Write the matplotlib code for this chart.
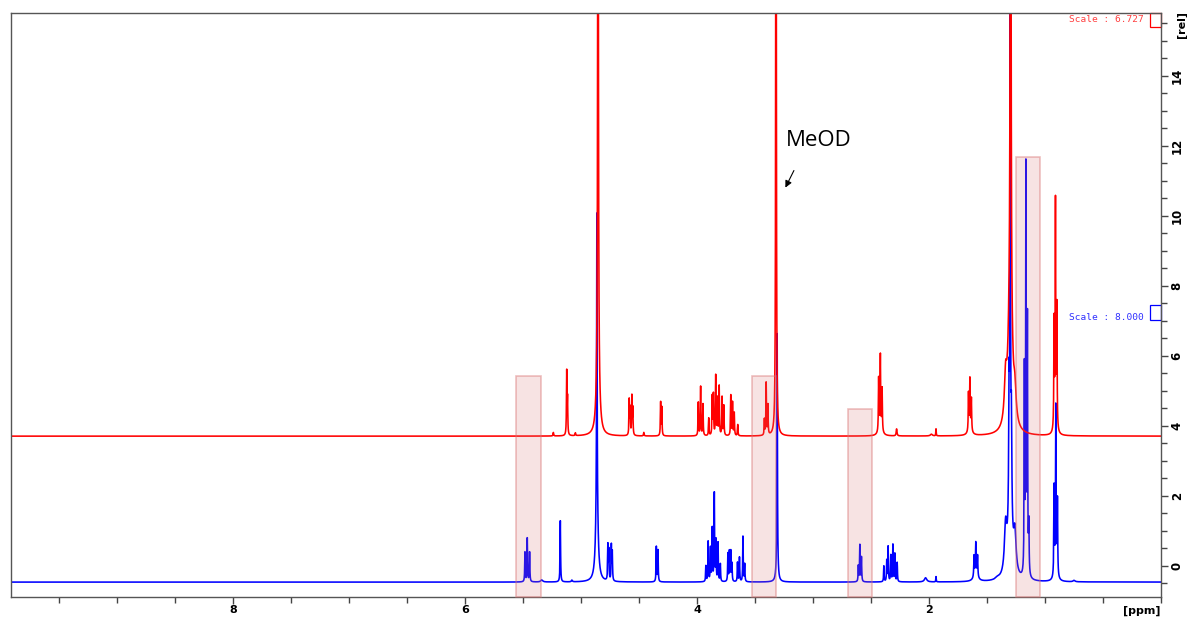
import numpy as np
import matplotlib.pyplot as plt
from matplotlib.patches import Rectangle
from matplotlib.ticker import MultipleLocator

# lower (blue) spectrum: peak centre [ppm], height above baseline [rel], half width [ppm]
blue_base = -0.46
blue_pos = [5.485, 5.465, 5.445, 5.34, 5.18, 5.08, 4.865, 4.865,
            4.770, 4.762, 4.740, 4.732, 4.352, 4.338,
            3.925, 3.905, 3.885, 3.870, 3.852, 3.838, 3.820, 3.800,
            3.735, 3.722, 3.710, 3.700, 3.652, 3.635, 3.605, 3.590,
            3.31, 3.31,
            2.610, 2.597, 2.583,
            2.390, 2.365, 2.353, 2.330, 2.312, 2.295, 2.275,
            2.03, 1.94,
            1.612, 1.597, 1.582, 1.597, 1.41,
            1.300, 1.310, 1.290, 1.300, 1.340, 1.260,
            1.178, 1.165, 1.152, 1.140,
            0.922, 0.907, 0.893, 0.907, 0.75]
blue_h = [0.85, 1.25, 0.85, 0.06, 1.75, 0.05, 8.4, 2.2,
          1.0, 0.85, 1.0, 0.80, 1.0, 0.90,
          0.45, 1.15, 0.95, 1.50, 2.50, 1.15, 1.10, 0.50,
          0.80, 0.85, 0.85, 0.50, 0.55, 0.70, 1.30, 0.50,
          6.6, 0.5,
          0.45, 1.05, 0.70,
          0.45, 0.60, 1.00, 0.75, 1.05, 0.80, 0.55,
          0.12, 0.15,
          0.60, 0.90, 0.60, 0.20, 0.05,
          14.0, 3.6, 2.6, 2.0, 1.3, 1.1,
          5.8, 11.6, 7.2, 1.4,
          2.5, 4.4, 2.1, 0.6, 0.04]
blue_w = [0.0025, 0.0025, 0.0025, 0.01, 0.0025, 0.005, 0.0025, 0.012,
          0.0025, 0.0025, 0.0025, 0.0025, 0.0025, 0.0025,
          0.0025, 0.0025, 0.0025, 0.0025, 0.0025, 0.0025, 0.0025, 0.0025,
          0.0025, 0.0025, 0.0025, 0.0025, 0.0025, 0.0025, 0.0025, 0.0025,
          0.0025, 0.008,
          0.0025, 0.0025, 0.0025,
          0.0025, 0.0025, 0.0025, 0.0025, 0.0025, 0.0025, 0.0025,
          0.012, 0.002,
          0.003, 0.003, 0.003, 0.02, 0.02,
          0.0025, 0.004, 0.004, 0.02, 0.012, 0.012,
          0.0025, 0.0025, 0.0025, 0.003,
          0.0025, 0.0025, 0.0025, 0.01, 0.01]

# upper (red) spectrum
red_base = 3.71
red_pos = [5.24, 5.125, 5.118, 5.05, 4.855, 4.855,
           4.586, 4.578, 4.563, 4.555, 4.46, 4.315, 4.305,
           3.990, 3.970, 3.950, 3.900, 3.870, 3.860, 3.840, 3.825,
           3.810, 3.785, 3.770, 3.710, 3.695, 3.680, 3.650,
           3.420, 3.405, 3.390, 3.32,
           2.435, 2.420, 2.405, 2.420, 2.28, 1.98, 1.94,
           1.660, 1.648, 1.635, 1.648,
           1.297, 1.300, 1.340, 1.260,
           0.922, 0.910, 0.898, 0.910]
red_h = [0.10, 1.80, 1.00, 0.08, 30.0, 2.5,
         1.00, 0.75, 1.10, 0.75, 0.10, 0.95, 0.80,
         0.95, 1.40, 0.90, 0.50, 1.10, 1.15, 1.70, 1.05,
         1.40, 1.10, 0.85, 1.15, 0.95, 0.65, 0.32,
         0.45, 1.50, 0.85, 30.0,
         1.50, 2.00, 1.20, 0.30, 0.20, 0.05, 0.20,
         1.05, 1.35, 0.90, 0.25,
         40.0, 4.0, 1.2, 0.8,
         3.0, 6.1, 3.4, 0.5]
red_w = [0.003, 0.0025, 0.0025, 0.003, 0.0025, 0.012,
         0.0025, 0.0025, 0.0025, 0.0025, 0.003, 0.0025, 0.0025,
         0.0025, 0.0025, 0.0025, 0.0025, 0.0025, 0.0025, 0.0025, 0.0025,
         0.0025, 0.0025, 0.0025, 0.0025, 0.0025, 0.0025, 0.0025,
         0.0025, 0.0025, 0.0025, 0.0025,
         0.0025, 0.0025, 0.0025, 0.015, 0.004, 0.01, 0.002,
         0.0025, 0.0025, 0.0025, 0.015,
         0.0025, 0.02, 0.012, 0.012,
         0.0025, 0.0025, 0.0025, 0.01]

# highlighted regions [ppm] and their top [rel]
box_left = [5.56, 3.526, 2.70, 1.25]
box_right = [5.345, 3.32, 2.49, 1.043]
box_top = [5.43, 5.43, 4.49, 11.69]

x_ticks = [8, 6, 4, 2]
y_ticks = [0, 2, 4, 6, 8, 10, 12, 14]
scale_red = "Scale : 6.727"
scale_blue = "Scale : 8.000"


def spectrum(ppm, pos, h, w):
    y = np.zeros_like(ppm)
    for p, a, g in zip(pos, h, w):
        y += a * g**2 / ((ppm - p)**2 + g**2)
    return y


ppm = np.arange(0.0, 9.95, 0.0004)
ymin, ymax = -0.886, 15.8

fig = plt.figure(figsize=(11.87, 6.19), dpi=100)
ax = fig.add_axes([10.7/1187, 22/619, 1150.3/1187, 584/619])

ax.plot(ppm, blue_base + spectrum(ppm, blue_pos, blue_h, blue_w), color='#0000ff', lw=1.15)
ax.plot(ppm, red_base + spectrum(ppm, red_pos, red_h, red_w), color='#ff0000', lw=1.15)

for l, r, t in zip(box_left, box_right, box_top):
    ax.add_patch(Rectangle((r, ymin), l - r, t - ymin, facecolor=(0.85, 0.45, 0.45, 0.2),
                           edgecolor=(0.85, 0.45, 0.45, 0.45), lw=1.2, zorder=3, clip_on=False))

# scale markers on the right
ax.add_patch(Rectangle((0.0, 15.4), 0.095, ymax - 15.4, fill=False, edgecolor='#ff0000', lw=0.9, clip_on=False))
ax.add_patch(Rectangle((0.0, 7.03), 0.095, 0.43, fill=False, edgecolor='#0000ff', lw=0.9, clip_on=False))
fig.text(1144/1187, 1 - 20/619, scale_red, color='#ff4040', family='DejaVu Sans Mono', fontsize=6.8, ha='right', va='center')
fig.text(1144/1187, 1 - 317/619, scale_blue, color='#3030ff', family='DejaVu Sans Mono', fontsize=6.8, ha='right', va='center')

# solvent label
ax.text(3.233, 12.17, "MeOD", family='Open Sans', fontsize=16, ha='left', va='center')
ax.annotate('', xy=(3.25, 10.74), xytext=(3.155, 11.37),
            arrowprops=dict(arrowstyle='-|>', color='black', lw=0.8, mutation_scale=10))

ax.set_xlim(9.92, 0.0)
ax.set_ylim(ymin, ymax)
ax.set_xticks(x_ticks)
ax.set_xticklabels([str(t) for t in x_ticks])
ax.xaxis.set_minor_locator(MultipleLocator(0.5))
ax.yaxis.tick_right()
ax.set_yticks(y_ticks)
ax.set_yticklabels([str(t) for t in y_ticks])
ax.yaxis.set_minor_locator(MultipleLocator(0.5))
ax.tick_params(which='major', length=5, width=1, color='#444444', labelsize=8.5, pad=2)
ax.tick_params(which='minor', length=4, width=1, color='#444444')
ax.tick_params(axis='x', which='major', labelsize=8, pad=0.5)
plt.setp(ax.get_yticklabels(), fontweight='bold', rotation=90, va='center')
plt.setp(ax.get_xticklabels(), fontweight='bold')
for s in ax.spines.values():
    s.set_color('#555555')
    s.set_linewidth(1.0)

fig.text(1160/1187, 1 - 611/619, "[ppm]", fontsize=8, fontweight='bold', ha='right', va='center')
fig.text(1182/1187, 1 - 24/619, "[rel]", fontsize=8, fontweight='bold', rotation=90, ha='center', va='center')

fig.savefig("out.png", dpi=100)
